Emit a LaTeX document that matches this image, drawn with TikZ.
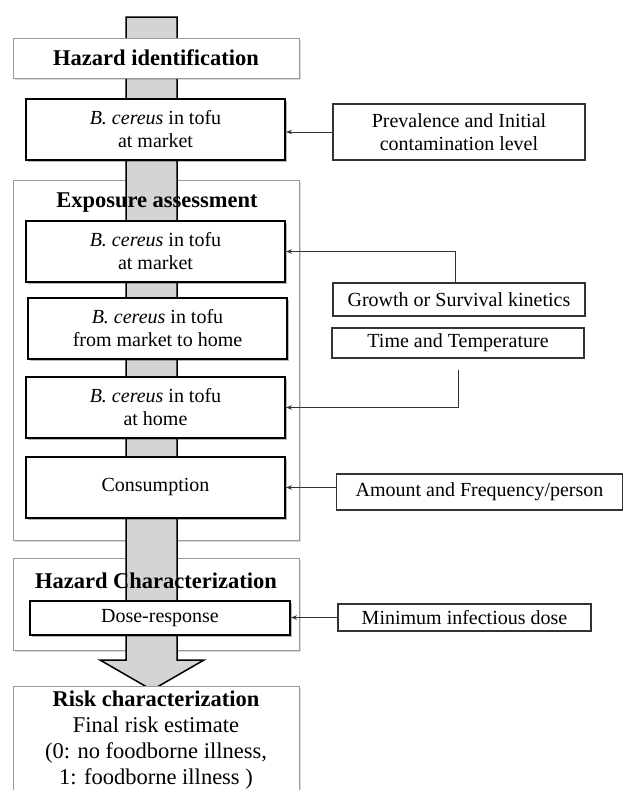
\documentclass[tikz,border=0pt]{standalone}
\usepackage{fontspec}
\setmainfont{Liberation Serif}
\usetikzlibrary{arrows.meta,shadows}
\definecolor{shaftgray}{HTML}{D4D4D4}
\definecolor{framegray}{HTML}{9A9A9A}
\definecolor{sidegray}{HTML}{333333}
\tikzset{
  shad/.style={drop shadow={fill=black,opacity=0.28,shadow xshift=2pt,shadow yshift=-2pt}},
  lightshad/.style={drop shadow={fill=black,opacity=0.15,shadow xshift=2pt,shadow yshift=-2pt}},
  stagebox/.style={draw=framegray,line width=0.9pt,fill=white,lightshad,inner sep=0pt},
  titletext/.style={font=\fontsize{22.5}{26}\selectfont\bfseries,text=black,inner sep=0pt},
  thickbox/.style={draw=black,line width=2pt,fill=white,shad,inner sep=0pt,align=center,
     font=\fontsize{20}{23}\selectfont},
  sidebox/.style={draw=sidegray,line width=1.1pt,fill=white,inner sep=0pt,align=center,
     font=\fontsize{20}{23}\selectfont},
  conn/.style={draw=sidegray,line width=1pt,-{Stealth[length=6pt,width=4.5pt]}},
  shaft/.style={draw=black,line width=1.5pt,fill=shaftgray,line join=miter}
}
\begin{document}
\begin{tikzpicture}[x=1pt,y=-1pt]
\useasboundingbox (0,0) rectangle (623,790);
\fill[white] (0,0) rectangle (623,790);

% stage containers (under the shaft)
\node[stagebox,minimum width=286pt,minimum height=360pt] (expo) at (156,360) {};
\node[stagebox,minimum width=286pt,minimum height=92pt] (hchar) at (156,604) {};

% central arrow
\draw[shaft] (126,17) -- (177,17) -- (177,660) -- (204,660) -- (152,690) -- (100,660) -- (126,660) -- cycle;

% container titles (over the shaft)
\node[titletext] (expotitle) at (157,203) {Exposure assessment};
\node[titletext] (hchartitle) at (156,581) {Hazard Characterization};

% hazard identification
\node[stagebox,minimum width=286pt,minimum height=40pt,titletext] (hid) at (156,58) {Hazard identification};

% main chain boxes
\node[thickbox,minimum width=259pt,minimum height=61pt] (b1) at (155.5,129) {\textit{B. cereus} in tofu\\at market};
\node[thickbox,minimum width=259pt,minimum height=61pt] (b2) at (155.5,251.5) {\textit{B. cereus} in tofu\\at market};
\node[thickbox,minimum width=259pt,minimum height=61pt] (b3) at (157.5,328.5) {\textit{B. cereus} in tofu\\from market to home};
\node[thickbox,minimum width=259pt,minimum height=61pt] (b4) at (155.5,407.5) {\textit{B. cereus} in tofu\\at home};
\node[thickbox,minimum width=259pt,minimum height=61pt] (b5) at (155.5,487.5) {Consumption};
\node[thickbox,minimum width=260pt,minimum height=34pt] (dose) at (160,618) {Dose-response};

% risk characterization
\node[stagebox,minimum width=286pt,minimum height=120pt,anchor=north] (risk) at (156,686) {};
\node[align=center,inner sep=0pt,font=\fontsize{22.5}{26}\selectfont] (risktxt) at (156,740)
  {\textbf{Risk characterization}\\Final risk estimate\\(0: no foodborne illness,\\1: foodborne illness )};

% side inputs
\node[sidebox,minimum width=252pt,minimum height=56pt] (prev) at (459,132) {Prevalence and Initial\\contamination level};
\node[sidebox,minimum width=252pt,minimum height=33pt] (growth) at (459,299.5) {Growth or Survival kinetics};
\node[sidebox,minimum width=252pt,minimum height=30pt] (time) at (458,343) {Time and Temperature};
\node[sidebox,minimum width=286pt,minimum height=36pt] (amount) at (479.5,492) {Amount and Frequency/person};
\node[sidebox,minimum width=253pt,minimum height=27pt] (mind) at (464.5,617.5) {Minimum infectious dose};

% connectors
\coordinate (gstart) at (455,284);
\coordinate (tstart) at (458,370);
\draw[conn] (prev.west) -- (b1.east |- prev.west);
\draw[conn] (gstart) |- (b2.east);
\draw[conn] (tstart) |- (b4.east);
\draw[conn] (amount.west |- b5.east) -- (b5.east);
\draw[conn] (mind.west) -- (dose.east |- mind.west);
\end{tikzpicture}
\end{document}
